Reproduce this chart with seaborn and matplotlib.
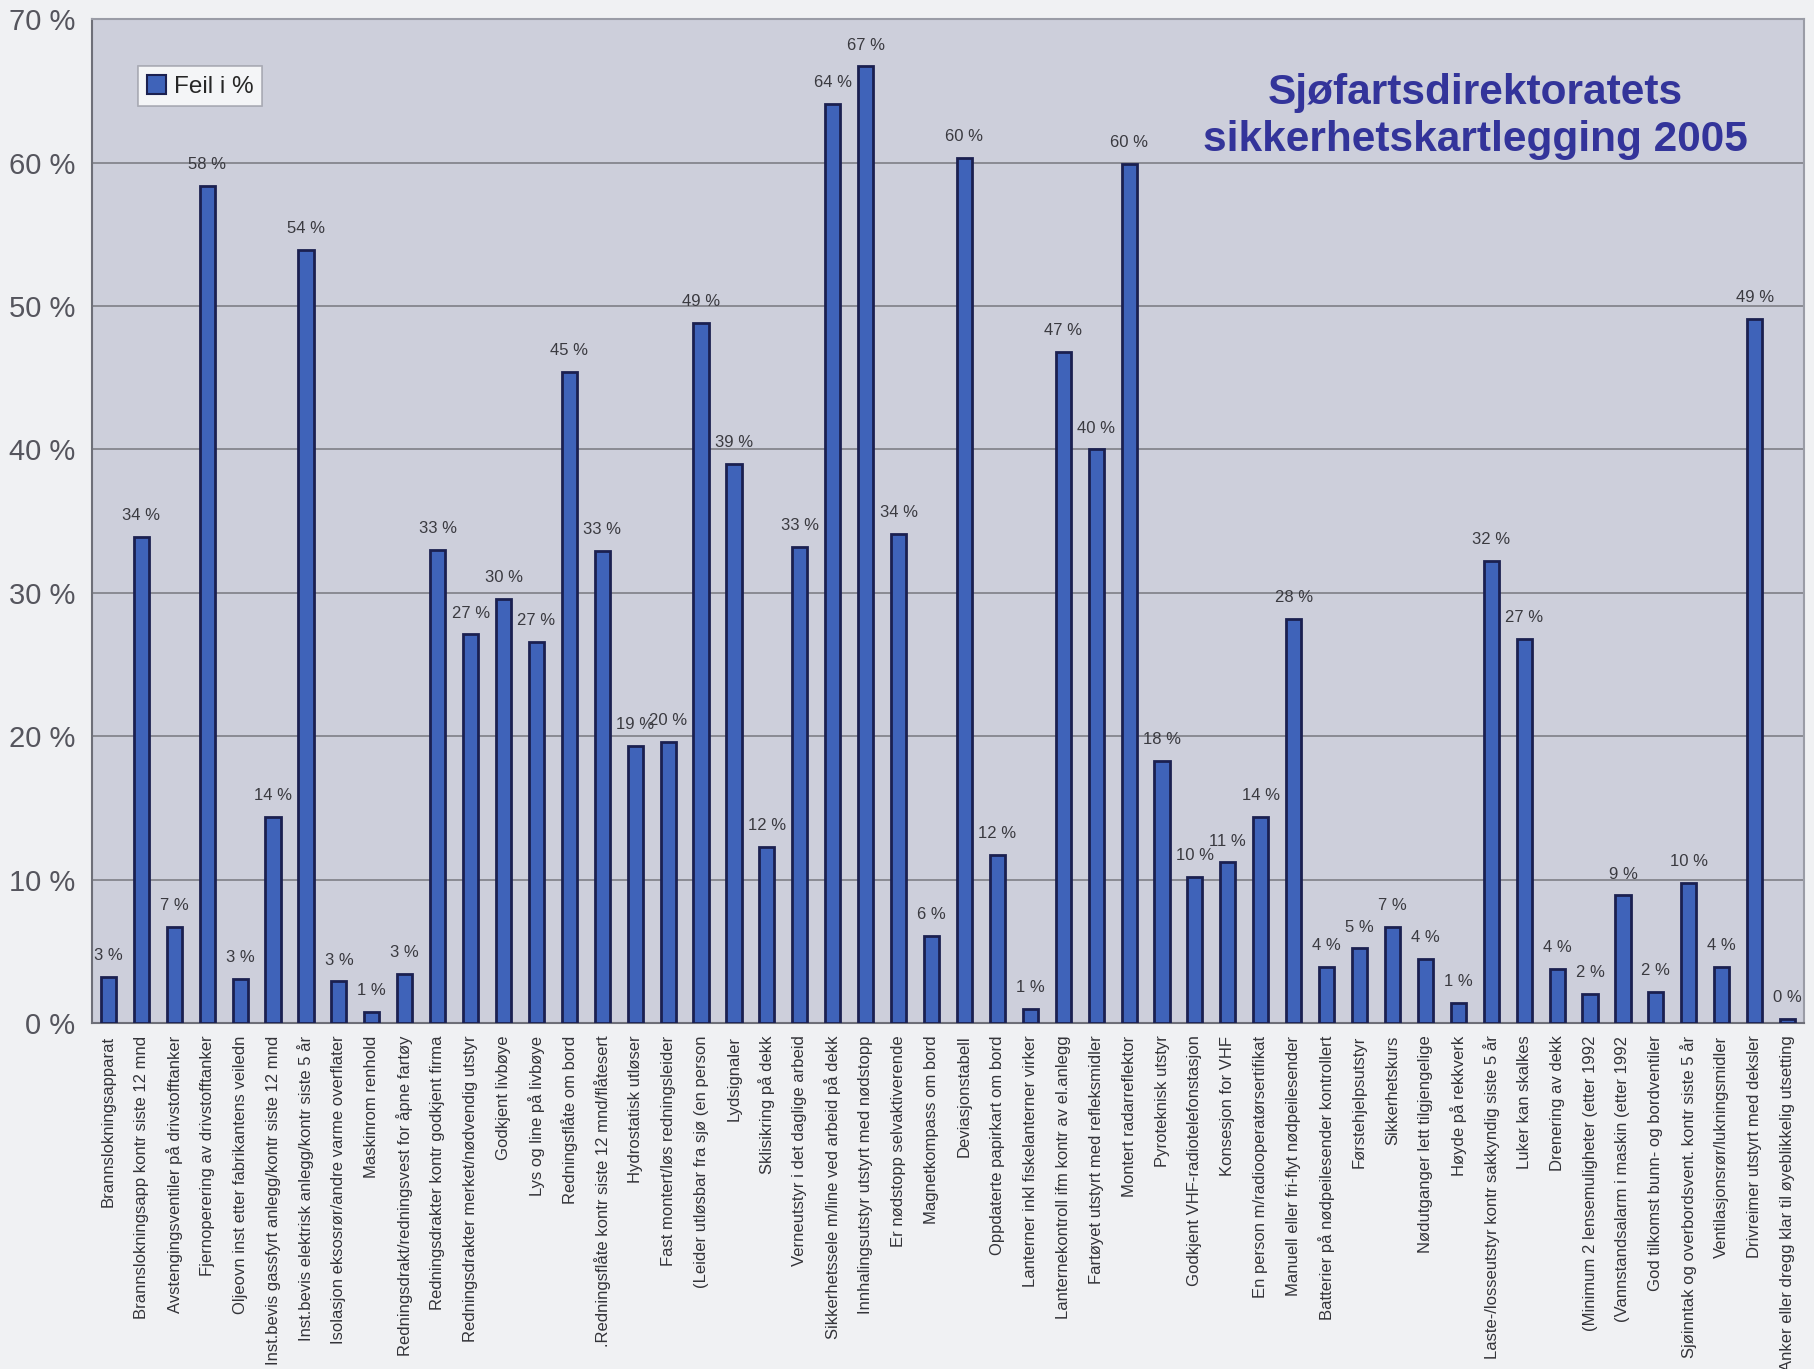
import matplotlib
matplotlib.use("Agg")
import matplotlib.pyplot as plt
import seaborn as sns
import pandas as pd
from matplotlib.patches import Patch

categories = [
    "Brannslokningsapparat",
    "Brannslokningsapp kontr siste 12 mnd",
    "Avstengingsventiler på drivstofftanker",
    "Fjernoperering av drivstofftanker",
    "Oljeovn inst etter fabrikantens veiledn",
    "Inst.bevis gassfyrt anlegg/kontr siste 12 mnd",
    "Inst.bevis elektrisk anlegg/kontr siste 5 år",
    "Isolasjon eksosrør/andre varme overflater",
    "Maskinrom renhold",
    "Redningsdrakt/redningsvest for åpne fartøy",
    "Redningsdrakter kontr godkjent firma",
    "Redningsdrakter merket/nødvendig utstyr",
    "Godkjent livbøye",
    "Lys og line på livbøye",
    "Redningsflåte om bord",
    ".Redningsflåte kontr siste 12 mnd/flåtesert",
    "Hydrostatisk utløser",
    "Fast montert/løs redningsleider",
    "(Leider utløsbar fra sjø (en person",
    "Lydsignaler",
    "Sklisikring på dekk",
    "Verneutstyr i det daglige arbeid",
    "Sikkerhetssele m/line ved arbeid på dekk",
    "Innhalingsutstyr utstyrt med nødstopp",
    "Er nødstopp selvaktiverende",
    "Magnetkompass om bord",
    "Deviasjonstabell",
    "Oppdaterte papirkart om bord",
    "Lanterner inkl fiskelanterner virker",
    "Lanternekontroll ifm kontr av el.anlegg",
    "Fartøyet utstyrt med refleksmidler",
    "Montert radarreflektor",
    "Pyroteknisk utstyr",
    "Godkjent VHF-radiotelefonstasjon",
    "Konsesjon for VHF",
    "En person m/radiooperatørsertifikat",
    "Manuell eller fri-flyt nødpeilesender",
    "Batterier på nødpeilesender kontrollert",
    "Førstehjelpsutstyr",
    "Sikkerhetskurs",
    "Nødutganger lett tilgjengelige",
    "Høyde på rekkverk",
    "Laste-/losseutstyr kontr sakkyndig siste 5 år",
    "Luker kan skalkes",
    "Drenering av dekk",
    "(Minimum 2 lensemuligheter (etter 1992",
    "(Vannstandsalarm i maskin (etter 1992",
    "God tilkomst bunn- og bordventiler",
    "Sjøinntak og overbordsvent. kontr siste 5 år",
    "Ventilasjonsrør/lukningsmidler",
    "Drivreimer utstyrt med deksler",
    "Anker eller dregg klar til øyeblikkelig utsetting",
]

feil_prosent = [
    3.2, 33.9, 6.7, 58.4, 3.1, 14.4, 53.9, 2.9, 0.8, 3.4,
    33.0, 27.1, 29.6, 26.6, 45.4, 32.9, 19.3, 19.6, 48.8, 39.0,
    12.3, 33.2, 64.1, 66.7, 34.1, 6.1, 60.3, 11.7, 1.0, 46.8,
    40.0, 59.9, 18.3, 10.2, 11.2, 14.4, 28.2, 3.9, 5.2, 6.7,
    4.5, 1.4, 32.2, 26.8, 3.8, 2.0, 8.9, 2.2, 9.8, 3.9,
    49.1, 0.3,
]

y_ticks = [0, 10, 20, 30, 40, 50, 60, 70]
y_tick_labels = [f"{t} %" for t in y_ticks]

legend_label = "Feil i %"
note_text = "Sjøfartsdirektoratets\nsikkerhetskartlegging 2005"

df = pd.DataFrame({"Kontrollpunkt": categories, "Feil": feil_prosent})

sns.set_theme(style="white")
plt.rcParams["font.family"] = ["Liberation Sans", "DejaVu Sans"]

bar_face = "#3f63b9"
bar_edge = "#1b2050"
plot_bg = "#cdcfdb"
fig_bg = "#f0f1f3"
grid_col = "#84858d"

fig = plt.figure(figsize=(18.14, 13.69), dpi=100, facecolor=fig_bg)
ax = fig.add_axes([0.0507, 0.2527, 0.9438, 0.7333])
ax.set_facecolor(plot_bg)

sns.barplot(
    data=df, x="Kontrollpunkt", y="Feil", ax=ax,
    color=bar_face, saturation=1, width=0.46,
    edgecolor=bar_edge, linewidth=2.0, zorder=3,
)

ax.set_ylim(0, 70)
ax.set_xlim(-0.5, len(categories) - 0.5)
ax.set_yticks(y_ticks)
ax.set_yticklabels(y_tick_labels, fontsize=21, color="#55555d")
ax.yaxis.grid(True, color=grid_col, linewidth=1.3, zorder=0)
ax.set_axisbelow(True)
ax.set_xlabel("")
ax.set_ylabel("")

ax.tick_params(axis="x", length=5, width=1, color="#707070", direction="out", pad=4)
ax.tick_params(axis="y", length=6, width=1, color="#707070", direction="out", pad=6)
ax.set_xticks(range(len(categories)))
ax.set_xticklabels(categories, rotation=90, fontsize=12, color="#333338")

for side in ["top", "right"]:
    ax.spines[side].set_color("#9a9ca6")
    ax.spines[side].set_linewidth(1.5)
for side in ["left", "bottom"]:
    ax.spines[side].set_color("#6e6f78")
    ax.spines[side].set_linewidth(1.5)

# Value labels above each bar
for container in ax.containers:
    ax.bar_label(
        container,
        labels=[f"{v:.0f} %" for v in container.datavalues],
        padding=10, fontsize=12, color="#3a3a40",
    )

leg = ax.legend(
    handles=[Patch(facecolor=bar_face, edgecolor=bar_edge, linewidth=1.5)],
    labels=[legend_label],
    loc="upper left", bbox_to_anchor=(0.02, 0.965),
    fontsize=17.5, frameon=True, fancybox=False,
    handlelength=0.8, handleheight=0.8, handletextpad=0.3,
    borderpad=0.35,
)
leg.get_frame().set_facecolor("white")
leg.get_frame().set_edgecolor("#9a9ca6")
leg.get_frame().set_linewidth(1.2)

ax.text(
    0.808, 0.903, note_text, transform=ax.transAxes,
    ha="center", va="center", fontsize=30.5, fontweight="bold",
    color="#33349a", linespacing=1.25, zorder=5,
)

fig.savefig("out.png", dpi=100, facecolor=fig_bg)
